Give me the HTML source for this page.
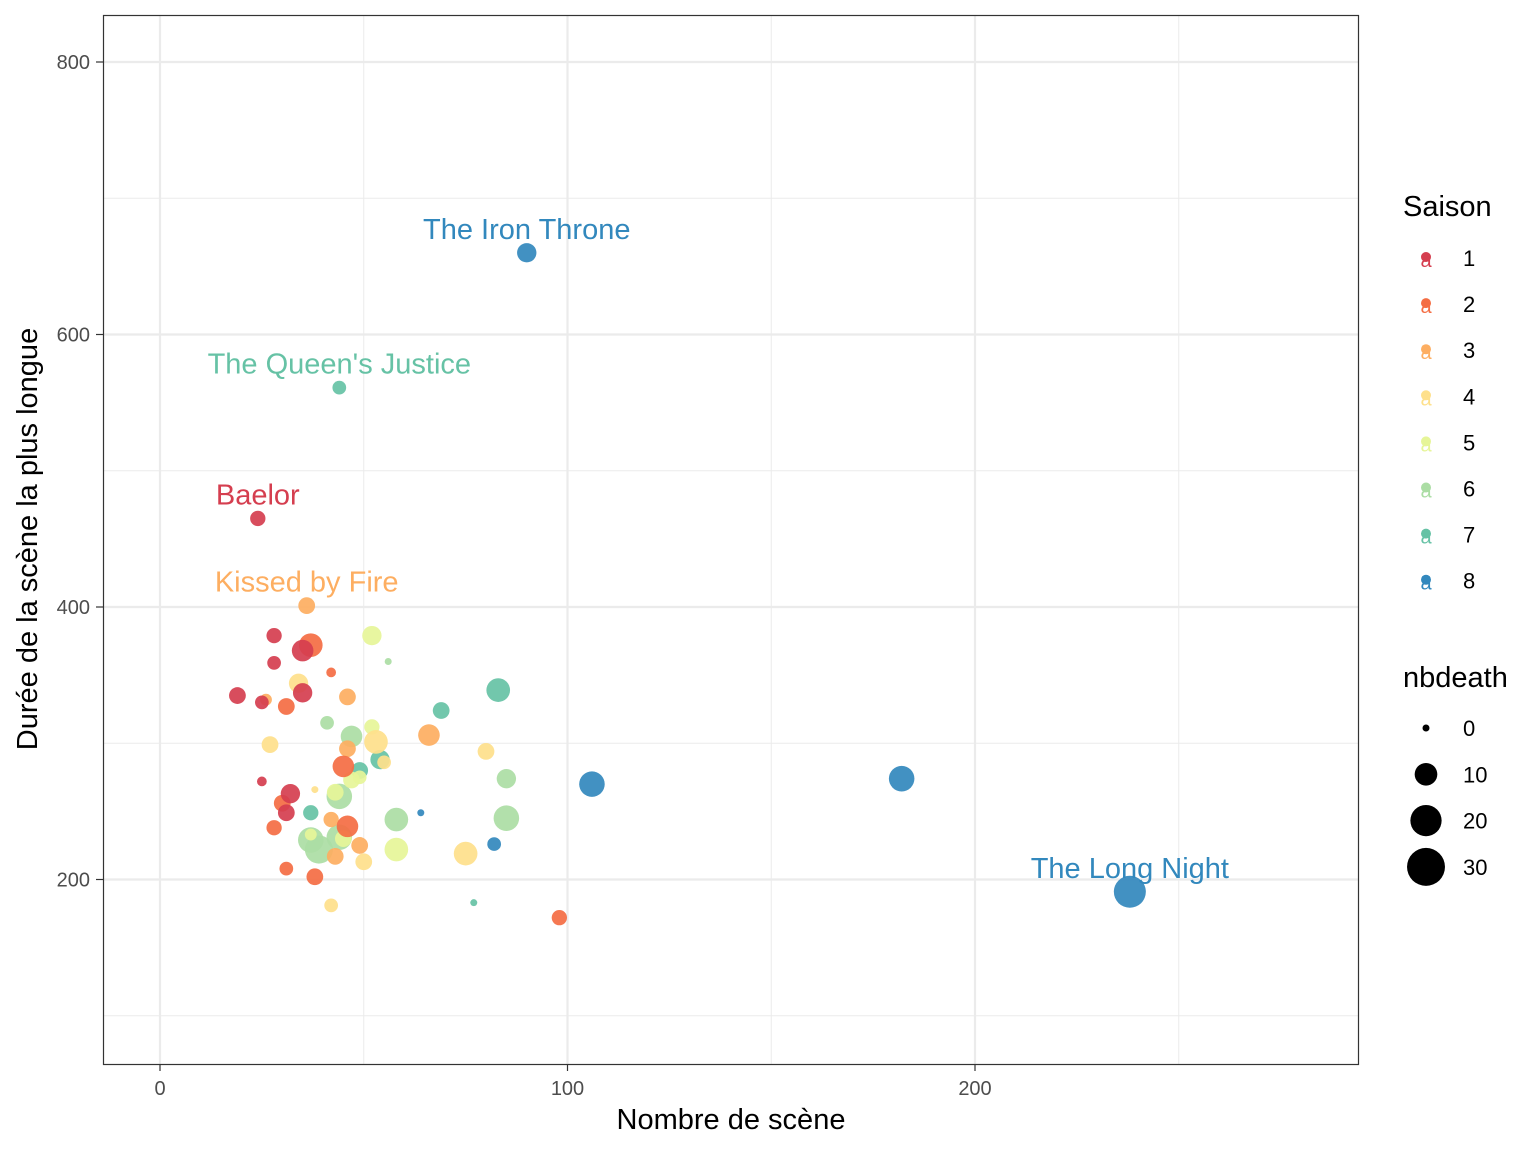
<!DOCTYPE html>
<html><head><meta charset="utf-8"><style>
html,body{margin:0;padding:0;background:#fff}
svg{display:block;font-family:"Liberation Sans",Arial,sans-serif}
</style></head><body>
<svg id="chart" width="1536" height="1152" viewBox="0 0 1536 1152">
<rect width="1536" height="1152" fill="#fff"/>
<g id="grid"></g>
<g id="points"></g>
<g id="labels"></g>
<rect x="103.5" y="15.5" width="1255" height="1049" fill="none" stroke="#333" stroke-width="1.2"/>
<g id="axes"></g>
<text x="731" y="1129" font-size="29" text-anchor="middle" fill="#000">Nombre de scène</text>
<text transform="translate(37,539) rotate(-90)" font-size="29" text-anchor="middle" fill="#000">Durée de la scène la plus longue</text>
<g id="legend"></g>
</svg>
<script>
const seasons=[1,2,3,4,5,6,7,8];
const seasonColors=["#D53E4F","#F46D43","#FDAE61","#FEE08B","#E6F598","#ABDDA4","#66C2A5","#3288BD"];
const xTicks=[0,100,200];
const xMinor=[50,150,250];
const yTicks=[200,400,600,800];
const yMinor=[100,300,500,700];
const sizeBreaks=[0,10,20,30];
const ptSeason=[8,7,1,3,8,8,8,8,8,7,7,7,7,7,7,2,6,6,6,6,6,6,6,6,6,6,5,5,5,5,5,5,5,5,4,4,4,4,4,4,4,4,4,3,3,3,3,3,3,3,2,2,2,2,2,2,2,2,2,1,1,1,1,1,1,1,1,1];
const ptScenes=[90,44,24,36,238,106,182,82,64,83,69,54,37,77,49,98,85,85,58,56,41,47,44,39,37,44,52,52,58,43,47,49,45,37,34,27,53,55,80,75,50,42,38,26,46,66,46,42,49,43,37,42,31,45,30,46,28,31,38,28,35,28,19,35,25,25,32,31];
const ptDuration=[660,561,465,401,191,270,274,226,249,339,324,288,249,183,280,172,245,274,244,360,315,305,261,222,229,231,379,312,222,264,273,275,230,233,344,299,301,286,294,219,213,181,266,332,334,306,296,244,225,217,372,352,327,283,256,239,238,208,202,379,368,359,335,337,330,272,263,249];
const ptDeaths=[7,3,4,5,21,13,13,3,0,11,5,7,4,0,5,4,13,7,11,0,3,9,13,16,13,13,7,4,11,5,5,3,5,2,7,5,11,3,5,11,5,3,0,2,5,9,5,4,5,5,11,1,5,9,5,9,4,3,5,4,9,3,5,7,3,1,7,5];
const labelIdx=[0,1,2,3,4];
const labelText=["The Iron Throne","The Queen's Justice","Baelor","Kissed by Fire","The Long Night"];

const NS="http://www.w3.org/2000/svg";
const X=v=>160+v*4.075;
const Y=v=>62+(800-v)*1.3625;
const R=d=>Math.sqrt(12.25+11.6*d);
function mk(tag,attrs,parent){const e=document.createElementNS(NS,tag);for(const k in attrs)e.setAttribute(k,attrs[k]);parent.appendChild(e);return e;}
const grid=document.getElementById('grid'),axes=document.getElementById('axes');
xMinor.forEach(v=>{const l=mk('line',{x1:X(v),x2:X(v),y1:15,y2:1064,stroke:'#ebebeb','stroke-width':1},grid);

});
yMinor.forEach(v=>{const l=mk('line',{x1:103,x2:1358,y1:Y(v),y2:Y(v),stroke:'#ebebeb','stroke-width':1},grid);

});
xTicks.forEach(v=>{const l=mk('line',{x1:X(v),x2:X(v),y1:15,y2:1064,stroke:'#ebebeb','stroke-width':2.2},grid);


const t=mk('line',{x1:X(v),x2:X(v),y1:1064,y2:1071,stroke:'#333','stroke-width':1.2},axes);


const tx=mk('text',{x:X(v),y:1095,'font-size':20,'text-anchor':'middle',fill:'#4d4d4d'},axes);tx.textContent=v;

});
yTicks.forEach(v=>{const l=mk('line',{x1:103,x2:1358,y1:Y(v),y2:Y(v),stroke:'#ebebeb','stroke-width':2.2},grid);


const t=mk('line',{x1:96,x2:103,y1:Y(v),y2:Y(v),stroke:'#333','stroke-width':1.2},axes);


const tx=mk('text',{x:90,y:Y(v)+7,'font-size':20,'text-anchor':'end',fill:'#4d4d4d'},axes);tx.textContent=v;

});
const pts=document.getElementById('points');
ptScenes.forEach((s,i)=>{const c=mk('circle',{cx:X(s),cy:Y(ptDuration[i]),r:R(ptDeaths[i]),fill:seasonColors[ptSeason[i]-1],'fill-opacity':0.92},pts);

});
const lab=document.getElementById('labels');
labelIdx.forEach((idx,k)=>{const t=mk('text',{x:X(ptScenes[idx]),y:Y(ptDuration[idx])-14,'font-size':29,'text-anchor':'middle',fill:seasonColors[ptSeason[idx]-1]},lab);t.textContent=labelText[k];

});
const lg=document.getElementById('legend');
const t1=mk('text',{x:1403,y:216,'font-size':29,fill:'#000'},lg);t1.textContent='Saison';


seasons.forEach((s,i)=>{const y=259+i*46.1;
const a=mk('text',{x:1426,y:y+8,'font-size':20,'text-anchor':'middle',fill:seasonColors[i]},lg);a.textContent='a';


const c=mk('circle',{cx:1426,cy:y-2,r:5,fill:seasonColors[i]},lg);


const t=mk('text',{x:1463,y:y+7,'font-size':22,fill:'#000'},lg);t.textContent=s;

});
const t2=mk('text',{x:1403,y:687,'font-size':29,fill:'#000'},lg);t2.textContent='nbdeath';


sizeBreaks.forEach((b,i)=>{const y=728+i*46.3;
const c=mk('circle',{cx:1426,cy:y,r:R(b),fill:'#000'},lg);


const t=mk('text',{x:1463,y:y+8,'font-size':22,fill:'#000'},lg);t.textContent=b;

});
</script>
</body></html>
